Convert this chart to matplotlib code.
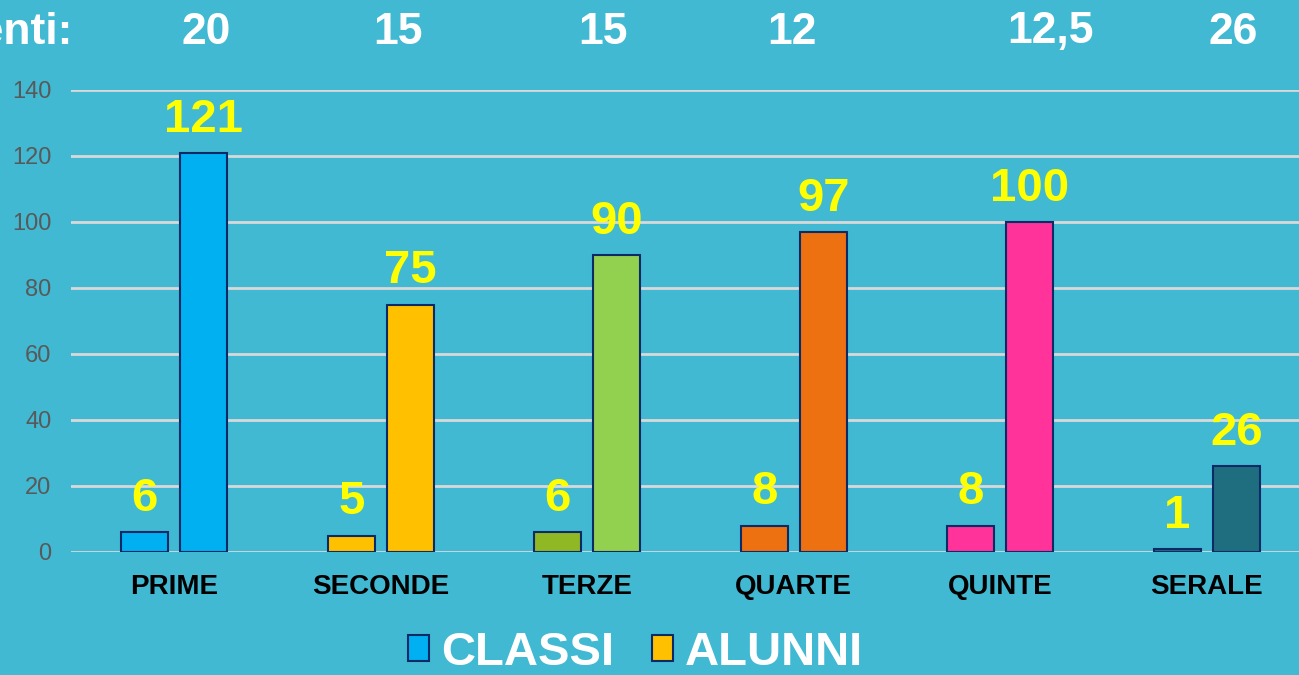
import numpy as np
import matplotlib
matplotlib.use("Agg")
from matplotlib import pyplot as plt
from matplotlib.patches import Patch

plt.rcParams['font.family'] = ['Liberation Sans', 'DejaVu Sans']

categories = ["PRIME", "SECONDE", "TERZE", "QUARTE", "QUINTE", "SERALE"]
classi = [6, 5, 6, 8, 8, 1]
alunni = [121, 75, 90, 97, 100, 26]
media_label = "Media studenti:"
media = ["20", "15", "15", "12", "12,5", "26"]
media_x = [206, 398, 603, 792, 1050, 1233]  # pixel x of header numbers

classi_colors = ["#00B0F0", "#FFC000", "#8FB824", "#ED7011", "#FF3399", "#1F6E80"]
alunni_colors = ["#00B0F0", "#FFC000", "#92D050", "#ED7011", "#FF3399", "#1F6E80"]
bg = "#41B9D3"
edge = "#0B2A66"

W, H = 1299, 675
fig = plt.figure(figsize=(W / 100, H / 100), dpi=100, facecolor=bg)
ax = fig.add_axes([71 / W, 123 / H, (1310 - 71) / W, (552 - 90) / H])
ax.set_facecolor(bg)

x = np.arange(len(categories))
w = 0.228
b1 = ax.bar(x - 0.143, classi, w, color=classi_colors, edgecolor=edge, linewidth=1.5, zorder=3)
b2 = ax.bar(x + 0.143, alunni, w, color=alunni_colors, edgecolor=edge, linewidth=1.5, zorder=3)

for bars, vals in [(b1, classi), (b2, alunni)]:
    for r, v in zip(bars, vals):
        ax.annotate(str(v), (r.get_x() + r.get_width() / 2, v), xytext=(0, 8),
                    textcoords="offset points", ha="center", va="bottom",
                    color="#FFFF00", fontsize=34, fontweight="bold", zorder=4)

ax.set_xlim(-0.5, len(categories) - 0.5)
ax.set_ylim(0, 140)
ax.set_yticks(range(0, 141, 20))
ax.yaxis.grid(True, color="#D9D9D9", linewidth=2, zorder=0)
ax.set_axisbelow(True)
for s in ax.spines.values():
    s.set_visible(False)
ax.set_xticks(x)
ax.set_xticklabels(categories, fontsize=20, fontweight="bold", color="black")
ax.tick_params(axis="x", length=0, pad=16)
ax.tick_params(axis="y", length=0, pad=14, labelsize=17, labelcolor="#595959")

# header row (label runs off the left edge as in the slide)
fig.text(72 / W, 1 - 32 / H, media_label, ha="right", va="center",
         color="white", fontsize=32, fontweight="bold")
for px, t in zip(media_x, media):
    fig.text(px / W, 1 - 32 / H, t, ha="center", va="center",
             color="white", fontsize=32, fontweight="bold")

handles = [Patch(facecolor="#00B0F0", edgecolor=edge, linewidth=1.5),
           Patch(facecolor="#FFC000", edgecolor=edge, linewidth=1.5)]
leg = fig.legend(handles, ["CLASSI", "ALUNNI"], loc="center", bbox_to_anchor=(0.489, 0.033),
                 ncol=2, frameon=False, handlelength=0.45, handleheight=0.45,
                 handletextpad=0.25, columnspacing=0.8,
                 prop={"size": 34, "weight": "bold"})
for t in leg.get_texts():
    t.set_color("white")

fig.savefig("out.png", dpi=100, facecolor=bg)
